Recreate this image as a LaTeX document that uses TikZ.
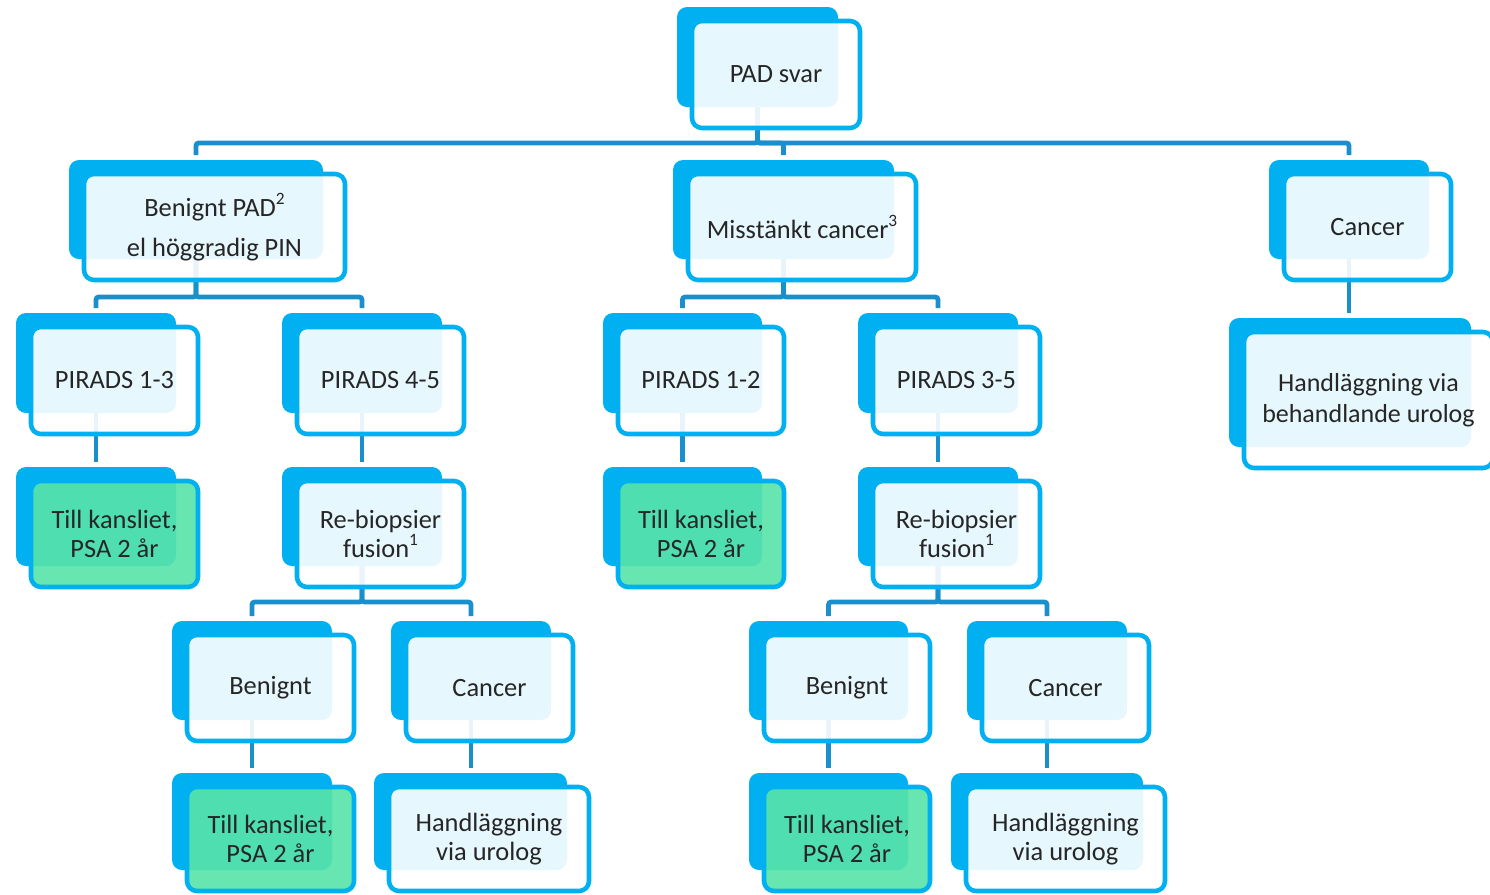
\documentclass[tikz,border=0pt]{standalone}
\usepackage{fontspec}
\setmainfont{Carlito}
\usetikzlibrary{backgrounds}
\definecolor{bblue}{HTML}{00B0F0}
\definecolor{cline}{HTML}{1A8FCC}
\definecolor{tgreen}{HTML}{58E3A8}
\definecolor{txt}{HTML}{262626}
\tikzset{
  lbl/.style={text=txt, align=center, inner sep=0pt, font=\fontsize{19.8}{21.75}\selectfont},
  backbox/.style={fill=bblue, rounded corners=7.5pt},
  frontbox/.style={fill opacity=0.9, draw=bblue, line width=3.4pt, rounded corners=7.5pt},
  conn/.style={draw=cline, line width=3.6pt, rounded corners=2pt},
}
\newcommand\sups[1]{\raisebox{0.45em}{\fontsize{13}{13}\selectfont #1}}
% name, x1, y1, x2, y2, fill, text
\newcommand\cbox[8][]{%
  \fill[backbox] (#3,#4) rectangle (#5,#6);
  \filldraw[frontbox, fill=#7] ({#3+15},{#4+14}) rectangle ({#5+22},{#6+21});
  \node[lbl,#1] (#2) at ({(#3+#5+37)/2},{(#4+#6+35)/2}) {#8};
  \coordinate (#2-c) at ({(#3+#5)/2},{(#4+#6)/2});
  \coordinate (#2-t) at ({(#3+#5)/2},{#4-5});
}
\begin{document}
\begin{tikzpicture}[x=0.75pt,y=-0.75pt]
\useasboundingbox (0,0) rectangle (1490,894);
\clip (0,0) rectangle (1490,894);
% row 0
\cbox{pad}{677}{7}{838}{107}{white}{PAD svar}
% row 1
\cbox[font=\fontsize{19.8}{30}\selectfont]{ben}{69}{160}{323}{259}{white}{Benignt PAD\sups{2}\\el höggradig PIN}
\cbox{mis}{673}{160}{894}{259}{white}{Misstänkt cancer\sups{3}}
\cbox{can}{1269}{160}{1429}{259}{white}{Cancer}
% row 2
\cbox{pa}{16}{313}{176}{413}{white}{PIRADS 1-3}
\cbox{pb}{282}{313}{442}{413}{white}{PIRADS 4-5}
\cbox{pc}{603}{313}{762}{413}{white}{PIRADS 1-2}
\cbox{pd}{858}{313}{1018}{413}{white}{PIRADS 3-5}
\cbox[font=\fontsize{19.5}{23.25}\selectfont]{hur}{1229}{318}{1471}{447}{white}{Handläggning via\\behandlande urolog}
% row 3
\cbox{tka}{16}{467}{176}{566}{tgreen}{Till kansliet,\\PSA 2 år}
\cbox{rba}{282}{467}{442}{566}{white}{Re-biopsier\\fusion\sups{1}}
\cbox{tkb}{603}{467}{762}{566}{tgreen}{Till kansliet,\\PSA 2 år}
\cbox{rbb}{858}{467}{1018}{566}{white}{Re-biopsier\\fusion\sups{1}}
% row 4
\cbox{bea}{172}{621}{332}{720}{white}{Benignt}
\cbox{caa}{391}{621}{551}{720}{white}{Cancer}
\cbox{beb}{749}{621}{908}{720}{white}{Benignt}
\cbox{cab}{967}{621}{1127}{720}{white}{Cancer}
% row 5
\cbox{tkc}{172}{773}{332}{870}{tgreen}{Till kansliet,\\PSA 2 år}
\cbox{hua}{374}{773}{567}{870}{white}{Handläggning\\via urolog}
\cbox{tkd}{749}{773}{908}{870}{tgreen}{Till kansliet,\\PSA 2 år}
\cbox{hub}{951}{773}{1143}{870}{white}{Handläggning\\via urolog}
% bars
\coordinate (bar0) at (0,143);
\coordinate (bar1) at (0,297);
\coordinate (bar2) at (0,602);
\begin{pgfonlayer}{background}
\draw[conn] (pad-c) -- (pad-c |- bar0) -| (ben-t);
\draw[conn] (pad-c) -- (pad-c |- bar0) -| (mis-t);
\draw[conn] (pad-c) -- (pad-c |- bar0) -| (can-t);
\draw[conn] (ben-c) -- (ben-c |- bar1) -| (pa-t);
\draw[conn] (ben-c) -- (ben-c |- bar1) -| (pb-t);
\draw[conn] (mis-c) -- (mis-c |- bar1) -| (pc-t);
\draw[conn] (mis-c) -- (mis-c |- bar1) -| (pd-t);
\draw[conn] (can-c) -- (can-c |- hur-t);
\draw[conn] (pa-c) -- (pa-c |- tka-t);
\draw[conn] (pb-c) -- (pb-c |- rba-t);
\draw[conn] (pc-c) -- (pc-c |- tkb-t);
\draw[conn] (pd-c) -- (pd-c |- rbb-t);
\draw[conn] (rba-c) -- (rba-c |- bar2) -| (bea-t);
\draw[conn] (rba-c) -- (rba-c |- bar2) -| (caa-t);
\draw[conn] (rbb-c) -- (rbb-c |- bar2) -| (beb-t);
\draw[conn] (rbb-c) -- (rbb-c |- bar2) -| (cab-t);
\draw[conn] (bea-c) -- (bea-c |- tkc-t);
\draw[conn] (caa-c) -- (caa-c |- hua-t);
\draw[conn] (beb-c) -- (beb-c |- tkd-t);
\draw[conn] (cab-c) -- (cab-c |- hub-t);
\end{pgfonlayer}
\end{tikzpicture}
\end{document}
